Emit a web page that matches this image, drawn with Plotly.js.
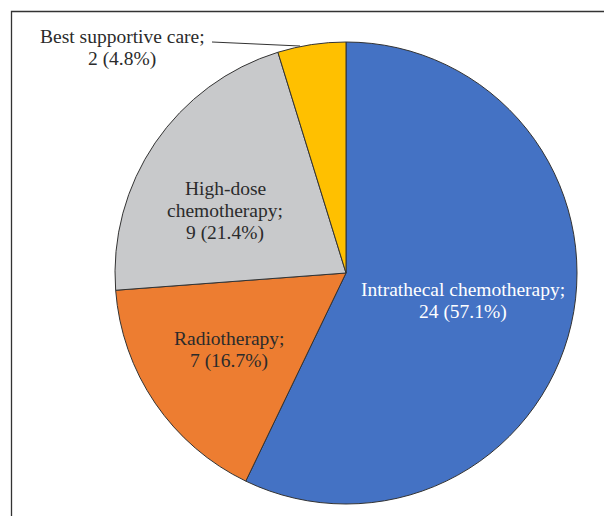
<!DOCTYPE html>
<html>
<head>
<meta charset="utf-8">
<script src="https://cdn.plot.ly/plotly-3.0.1.min.js"></script>
<style>html,body{margin:0;padding:0;background:#fff;}#chart{width:604px;height:516px;}</style>
</head>
<body>
<div id="chart"></div>
<script>
// Data
const categories = ["Intrathecal chemotherapy", "Radiotherapy", "High-dose chemotherapy", "Best supportive care"];
const labelLines = [["Intrathecal chemotherapy;"], ["Radiotherapy;"], ["High-dose", "chemotherapy;"], ["Best supportive care;"]];
const counts = [24, 7, 9, 2];
const percents = ["57.1", "16.7", "21.4", "4.8"];
const colors = ["#4472C4", "#ED7D31", "#C8C9CB", "#FFC000"];
const textColors = ["#FFFFFF", "#2b2b2b", "#2b2b2b", "#2b2b2b"];

// Layout helpers (pixel -> paper)
const W = 604, H = 516;
const px = x => x / W;
const py = y => 1 - y / H;

const cx = 346, cy = 273, r = 231;
// label centres in pixels
const labelPos = [[462.5, 301], [229, 350], [225, 210.5], [122, 47.5]];
const lineGap = 22.5;

const trace = {
  type: "pie",
  labels: categories,
  values: counts,
  sort: false,
  direction: "clockwise",
  rotation: 0,
  marker: { colors: colors, line: { color: "#333333", width: 1 } },
  textinfo: "none",
  hoverinfo: "skip",
  showlegend: false,
  domain: { x: [px(cx - r), px(cx + r)], y: [py(cy + r), py(cy - r)] }
};

const annotations = [];
categories.forEach((c, i) => {
  const lines = labelLines[i].concat([counts[i] + " (" + percents[i] + "%)"]);
  const n = lines.length;
  lines.forEach((t, k) => {
    annotations.push({
      xref: "paper", yref: "paper",
      x: px(labelPos[i][0]),
      y: py(labelPos[i][1] + (k - (n - 1) / 2) * lineGap),
      xanchor: "center", yanchor: "middle",
      showarrow: false,
      text: t,
      font: { family: "Liberation Serif, Times New Roman, serif", size: 19.5, color: textColors[i] }
    });
  });
});

const layout = {
  width: W, height: H,
  margin: { l: 0, r: 0, t: 0, b: 0 },
  paper_bgcolor: "#ffffff",
  showlegend: false,
  annotations: annotations,
  shapes: [
    { type: "rect", xref: "paper", yref: "paper",
      x0: px(11.5), x1: px(620), y0: py(540), y1: py(11.5),
      line: { color: "#333333", width: 1.3 }, fillcolor: "rgba(0,0,0,0)" },
    { type: "line", xref: "paper", yref: "paper",
      x0: px(212), y0: py(42), x1: px(300), y1: py(46),
      line: { color: "#333333", width: 1 } }
  ]
};

Plotly.newPlot("chart", [trace], layout, { staticPlot: true, displayModeBar: false });
</script>
</body>
</html>
